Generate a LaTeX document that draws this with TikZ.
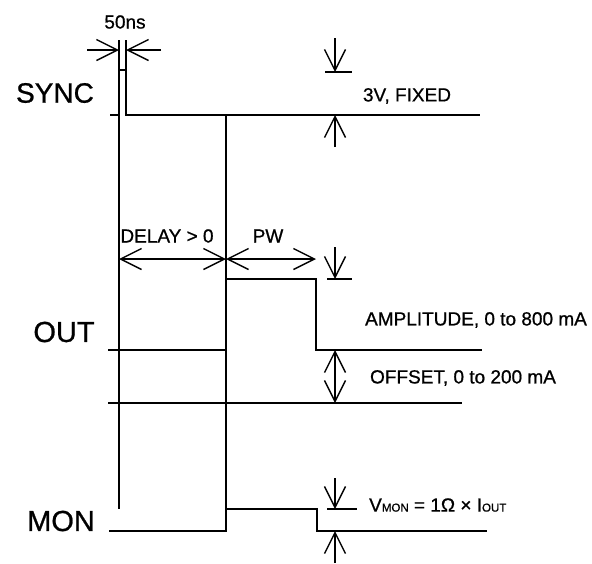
\documentclass[tikz,border=0pt]{standalone}
\usepackage{fontspec}
\setmainfont[FakeBold=0.8]{Liberation Sans}
\newfontfamily\heavy[FakeBold=0.8]{Liberation Sans}
\usetikzlibrary{arrows.meta}
\begin{document}
\begin{tikzpicture}[x=1pt,y=-1pt,
  sig/.style={line width=2.4pt, line join=miter},
  guide/.style={line width=1.1pt},
  dimline/.style={line width=1.4pt},
  dimarr/.style={dimline, -{Straight Barb[length=21pt,width=21pt,line width=1.4pt]}},
  dimboth/.style={dimline, {Straight Barb[length=21pt,width=21pt,line width=1.4pt]}-{Straight Barb[length=21pt,width=21pt,line width=1.4pt]}},
  big/.style={inner sep=0pt, font=\heavy\fontsize{29}{32}\selectfont},
  small/.style={inner sep=0pt, font=\heavy\fontsize{19}{22}\selectfont}]
\useasboundingbox (0,0) rectangle (592,563);
% coordinates
\coordinate (ext1t) at (119,40);
\coordinate (g1b) at (119,509);
\coordinate (ext2t) at (126,40);
\coordinate (ext2b) at (126,70);
\coordinate (g2t) at (226,115);
\coordinate (g2b) at (226,509);
% guides
\draw[guide] (ext1t) -- (g1b);
\draw[guide] (ext2t) -- (ext2b);
\draw[guide] (g2t) -- (g2b);
% SYNC
\coordinate (s0) at (110,115);
\coordinate (s5) at (480,115);
\draw[sig] (s0) -- (119,115) -- (119,70) -- (126,70) -- (126,115) -- (s5);
% 50ns arrows
\coordinate (a1s) at (87,50); \coordinate (a1e) at (119,50);
\coordinate (a2s) at (161,50); \coordinate (a2e) at (126,50);
\draw[dimarr] (a1s) -- (a1e);
\draw[dimarr] (a2s) -- (a2e);
% 3V arrows
\coordinate (v1s) at (335,38); \coordinate (v1e) at (335,72);
\coordinate (t1a) at (325,72); \coordinate (t1b) at (352,72);
\coordinate (v2s) at (335,147); \coordinate (v2e) at (335,115);
\draw[dimarr] (v1s) -- (v1e);
\draw[dimline] (t1a) -- (t1b);
\draw[dimarr] (v2s) -- (v2e);
% OUT
\coordinate (o0) at (108,350);
\coordinate (o5) at (482,350);
\draw[sig] (o0) -- (226,350) -- (226,279) -- (316,279) -- (316,350) -- (o5);
\coordinate (off0) at (108,403); \coordinate (off1) at (462,403);
\draw[line width=1.2pt] (off0) -- (off1);
% delay / pw
\coordinate (d0) at (119,259); \coordinate (d1) at (226,259); \coordinate (d2) at (316,259);
\draw[dimboth] (d0) -- (d1);
\draw[dimboth] (d1) -- (d2);
% amplitude / offset arrows
\coordinate (am0) at (335,247); \coordinate (am1) at (335,279);
\coordinate (t2a) at (327,279); \coordinate (t2b) at (352,279);
\draw[dimarr] (am0) -- (am1);
\draw[dimline] (t2a) -- (t2b);
\coordinate (of0) at (335,350); \coordinate (of1) at (335,403);
\draw[dimboth] (of0) -- (of1);
% MON
\coordinate (m0) at (109,531);
\coordinate (m5) at (487,531);
\draw[sig] (m0) -- (226,531) -- (226,509) -- (317,509) -- (317,531) -- (m5);
\coordinate (mv0) at (335,478); \coordinate (mv1) at (335,509);
\coordinate (t3a) at (327,509); \coordinate (t3b) at (357,509);
\coordinate (mu0) at (335,563); \coordinate (mu1) at (335,531);
\draw[dimarr] (mv0) -- (mv1);
\draw[dimline] (t3a) -- (t3b);
\draw[dimarr] (mu0) -- (mu1);
% texts
\node[small] (t50) at (125,22) {50ns};
\node[big, font=\heavy\fontsize{28}{32}\selectfont] (lsync) at (55,93) {SYNC};
\node[small] (t3v) at (407,96) {3V, FIXED};
\node[small] (tdelay) at (167,236) {DELAY > 0};
\node[small] (tpw) at (268,236) {PW};
\node[small] (tamp) at (476,320) {AMPLITUDE, 0 to 800 mA};
\node[small] (toff) at (463,378) {OFFSET, 0 to 200 mA};
\node[big] (lout) at (64,332) {OUT};
\node[big] (lmon) at (61,521) {MON};
\node[small, anchor=west] (tvmon) at (369,505) {V{\fontsize{11.5}{12}\selectfont MON} = 1Ω × I{\fontsize{11.5}{12}\selectfont OUT}};
\end{tikzpicture}
\end{document}
